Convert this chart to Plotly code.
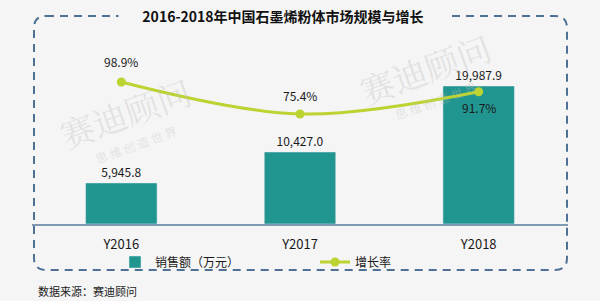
import plotly.graph_objects as go

categories = ["Y2016", "Y2017", "Y2018"]
sales = [5945.8, 10427.0, 19987.9]
growth = [98.9, 75.4, 91.7]
sales_labels = ["5,945.8", "10,427.0", "19,987.9"]
growth_labels = ["98.9%", "75.4%", "91.7%"]

W, H = 600, 301
L, R, T, B = 32, 32, 40, 77
PW, PH = W - L - R, H - T - B


def px(x):
    return (x - L) / PW


def py(y):
    return (H - B - y) / PH


FONT = "Noto Sans CJK SC, Noto Sans, sans-serif"
TEAL = "#21958F"
LIME = "#BDD332"
BG = "#F5F5F5"

fig = go.Figure()
fig.add_trace(go.Bar(
    x=categories, y=sales, name="销售额（万元）", marker_color=TEAL, width=0.4,
    text=sales_labels, textposition="outside", cliponaxis=False,
    textfont=dict(size=12, color="#1a1a1a"), yaxis="y",
))
fig.add_trace(go.Scatter(
    x=categories, y=growth, name="增长率", mode="lines+markers",
    line=dict(color=LIME, width=3, shape="spline"),
    marker=dict(size=9, color=LIME), yaxis="y2",
))

annotations = []
shifts = [20, 18, -16]
for c, g, lab, s in zip(categories, growth, growth_labels, shifts):
    annotations.append(dict(x=c, y=g, xref="x", yref="y2", text=lab, showarrow=False,
                            yshift=s, font=dict(size=12, color="#1a1a1a", family=FONT)))

# watermarks
for (wx, wy) in [(125, 112), (425, 68)]:
    annotations.append(dict(x=px(wx), y=py(wy), xref="paper", yref="paper", text="赛迪顾问",
                            showarrow=False, textangle=-20, xanchor="center", yanchor="middle",
                            font=dict(size=34, color="rgba(190,190,190,0.35)", family="Noto Serif CJK SC, Noto Sans CJK SC")))
    annotations.append(dict(x=px(wx + 10), y=py(wy + 32), xref="paper", yref="paper", text="思 维 创 造 世 界",
                            showarrow=False, textangle=-20, xanchor="center", yanchor="middle",
                            font=dict(size=12, color="rgba(190,190,190,0.35)", family="Noto Sans CJK SC")))

# title (covers the dashed line)
annotations.append(dict(x=px(283), y=py(16), xref="paper", yref="paper", xanchor="center", yanchor="middle",
                        text="<b>2016-2018年中国石墨烯粉体市场规模与增长</b>", showarrow=False,
                        bgcolor=BG, borderpad=4, width=320,
                        font=dict(size=14, color="#111111", family=FONT)))
# source
annotations.append(dict(x=px(36), y=py(291), xref="paper", yref="paper", xanchor="left", yanchor="middle",
                        text="数据来源：赛迪顾问", showarrow=False,
                        font=dict(size=11, color="#222222", family=FONT)))

# rounded dashed box
x0, x1, y0, y1, r = 34, 567, 16, 270, 12
path = (f"M {px(x0+r)},{py(y0)} L {px(x1-r)},{py(y0)} Q {px(x1)},{py(y0)} {px(x1)},{py(y0+r)} "
        f"L {px(x1)},{py(y1-r)} Q {px(x1)},{py(y1)} {px(x1-r)},{py(y1)} "
        f"L {px(x0+r)},{py(y1)} Q {px(x0)},{py(y1)} {px(x0)},{py(y1-r)} "
        f"L {px(x0)},{py(y0+r)} Q {px(x0)},{py(y0)} {px(x0+r)},{py(y0)} Z")

fig.update_layout(
    width=W, height=H, margin=dict(l=L, r=R, t=T, b=B),
    paper_bgcolor=BG, plot_bgcolor="rgba(0,0,0,0)",
    font=dict(family=FONT, size=12, color="#1a1a1a"),
    showlegend=True,
    legend=dict(orientation="h", x=px(115), y=py(262), xanchor="left", yanchor="middle",
                bgcolor="rgba(0,0,0,0)", font=dict(size=12, family=FONT), entrywidth=155,
                itemwidth=30, tracegroupgap=0),
    xaxis=dict(showgrid=False, showline=True, linecolor="#7F9AB2", linewidth=1.5,
               ticks="", ticklabelstandoff=8, tickfont=dict(size=13, color="#1a1a1a")),
    yaxis=dict(range=[0, 26650], visible=False, showgrid=False),
    yaxis2=dict(range=[-5.4, 129.7], overlaying="y", visible=False, showgrid=False),
    shapes=[dict(type="path", path=path, xref="paper", yref="paper",
                 line=dict(color="#4F7196", width=2, dash="8px,6px"), layer="below")],
    annotations=annotations,
    bargap=0.6,
)

fig.write_html("out.html")
